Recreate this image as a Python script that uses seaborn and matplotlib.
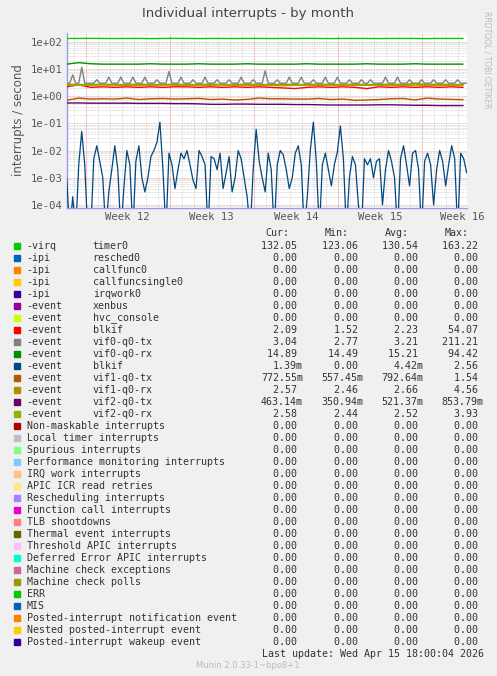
import numpy as np
import pandas as pd
import matplotlib
matplotlib.use("Agg")
import matplotlib.pyplot as plt
from matplotlib.ticker import LogLocator, NullFormatter
import seaborn as sns

sns.set_style("white")
plt.rcParams['font.family'] = ['DejaVu Sans']

# ---------------- data ----------------
days_daily = list(range(0, 34))
timer0 = [132, 132, 133, 132, 131, 132, 132, 131, 132, 133, 132, 131, 132, 132, 131, 132, 132,
          131, 132, 132, 133, 132, 131, 132, 132, 132, 131, 132, 132, 132, 131, 132, 132, 132]
vif0_rx = [15, 17, 15.5, 15, 15, 15, 15, 15.5, 15, 15, 15, 15.5, 15, 15, 15, 15.5, 15,
           15, 15, 15, 15.5, 15, 15, 15, 15, 15.5, 15, 15, 15, 15.5, 15, 15, 15, 15]
blkif_red = [2.2, 2.6, 2.1, 2.2, 2.1, 2.2, 2.1, 2.2, 2.1, 2.2, 2.2, 2.1, 2.2, 2.1, 2.2, 2.1, 2.2,
             2.1, 2.0, 1.9, 2.1, 2.2, 2.1, 2.2, 2.1, 1.9, 2.2, 2.1, 2.2, 2.1, 2.2, 2.1, 2.2, 2.1]
vif1_rx = [2.7, 2.6, 2.6, 2.7, 2.6, 2.6, 2.7, 2.6, 2.6, 2.7, 2.6, 2.6, 2.7, 2.6, 2.6, 2.7, 2.6,
           2.6, 2.7, 2.6, 2.6, 2.7, 2.6, 2.6, 2.7, 2.6, 2.6, 2.7, 2.6, 2.9, 2.6, 2.7, 2.6, 2.6]
vif2_rx = [2.5, 2.5, 2.5, 2.6, 2.5, 2.5, 2.5, 2.5, 2.6, 2.5, 2.5, 2.5, 2.5, 2.6, 2.5, 2.5, 2.5,
           2.5, 2.4, 2.5, 2.5, 2.5, 2.5, 2.5, 2.5, 2.5, 2.5, 2.5, 2.5, 2.5, 2.5, 2.5, 2.5, 2.5]
vif1_tx = [0.7, 0.85, 0.78, 0.8, 0.78, 0.85, 0.75, 0.8, 0.82, 0.78, 0.8, 0.83, 0.75, 0.78, 0.72,
           0.76, 0.85, 0.8, 0.8, 0.78, 0.78, 0.82, 0.75, 0.78, 0.7, 0.72, 0.75, 0.8, 0.82, 0.72,
           0.85, 0.78, 0.76, 0.74]
vif2_tx = [0.56, 0.56, 0.55, 0.55, 0.55, 0.55, 0.54, 0.54, 0.54, 0.53, 0.53, 0.52, 0.5, 0.5, 0.51,
           0.51, 0.5, 0.5, 0.5, 0.49, 0.49, 0.48, 0.47, 0.47, 0.47, 0.47, 0.48, 0.48, 0.47, 0.46,
           0.46, 0.45, 0.45, 0.45]
vif0_tx = [3.0, 3.0, 6.0, 3.0, 3.0, 11.5, 3.0, 3.0, 3.0, 3.0, 4.0, 3.0, 3.0, 3.0, 5.0, 3.0,
           3.0, 3.0, 5.0, 3.0, 3.0, 3.0, 5.0, 3.0, 3.0, 3.0, 5.0, 3.0, 3.0, 3.0, 4.0, 3.0,
           3.0, 3.0, 8.0, 3.0, 3.0, 3.0, 5.0, 3.0, 3.0, 3.0, 4.0, 3.0, 3.0, 3.0, 5.0, 3.0,
           3.0, 3.0, 4.0, 3.0, 3.0, 3.0, 4.0, 3.0, 3.0, 3.0, 5.0, 3.0, 3.0, 3.0, 4.0, 3.0,
           3.0, 3.0, 8.5, 3.0, 3.0, 3.0, 4.0, 3.0, 3.0, 3.0, 5.0, 3.0, 3.0, 3.0, 5.0, 3.0,
           3.0, 3.0, 4.0, 3.0, 3.0, 3.0, 5.0, 3.0, 3.0, 3.0, 5.0, 3.0, 3.0, 3.0, 4.0, 3.0,
           3.0, 3.0, 4.0, 3.0, 3.0, 4.0, 3.0, 3.0, 3.0, 3.0, 5.0, 3.0, 3.0, 3.0, 5.0, 3.0,
           3.0, 3.0, 4.0, 3.0, 3.0, 3.0, 4.0, 3.0, 3.0, 3.0, 4.0, 3.0, 3.0, 3.0, 4.0, 3.0,
           3.0, 3.0, 4.0, 3.0, 3.0, 3.0]
blkif_blue = [1e-3, 1e-5, 2e-4, 1e-5, 3e-3, 5e-2, 3e-3, 1e-5, 1e-5, 5e-3, 1.5e-2, 4e-3, 1e-3, 1e-5,
              3e-4, 2e-3, 1.5e-2, 2e-3, 1e-5, 4e-4, 1e-2, 3e-3, 1e-5, 4e-3, 1.5e-2, 1e-3, 3e-4, 1e-3,
              6e-3, 1e-2, 2e-2, 1.1e-1, 2e-3, 1e-5, 8e-3, 3e-3, 4e-4, 2e-3, 8e-3, 5e-3, 1e-2, 3e-3,
              8e-4, 4e-4, 1e-2, 6e-3, 3e-3, 1e-5, 6e-3, 5e-3, 2e-3, 8e-3, 4e-4, 1.5e-3, 6e-3, 3e-4,
              1e-3, 1e-2, 5e-3, 1e-3, 2e-4, 1e-5, 2e-3, 6e-2, 4e-3, 1e-3, 3e-4, 8e-3, 2e-3, 1e-5,
              3e-3, 1e-2, 7e-3, 2e-3, 4e-4, 1e-3, 8e-3, 1.5e-2, 3e-3, 1e-5, 2e-4, 1e-2, 1.1e-1, 4e-3,
              1e-5, 3e-3, 8e-3, 2e-3, 5e-4, 3e-3, 9e-3, 8e-2, 5e-3, 1e-5, 1e-3, 6e-3, 3e-3, 1e-4,
              1e-5, 5e-3, 3e-3, 5e-3, 1e-3, 4e-3, 5e-3, 1e-4, 2e-3, 1e-2, 4e-3, 1e-3, 1e-5, 5e-3,
              1.5e-2, 3e-3, 5e-4, 8e-3, 1e-2, 2e-3, 1e-5, 4e-3, 8e-3, 3e-3, 1e-4, 2e-3, 1e-2, 4e-3,
              5e-4, 3e-3, 1.5e-2, 5e-3, 1e-5, 8e-3, 5e-3, 1.5e-3]

week_labels = ["Week 12", "Week 13", "Week 14", "Week 15", "Week 16"]
week_starts = [1.58, 8.58, 15.58, 22.58, 29.58]
x_end = 33.3
y_ticks = [1e-4, 1e-3, 1e-2, 1e-1, 1, 10, 100]
y_tick_labels = ["1e-04", "1e-03", "1e-02", "1e-01", "1e+00", "1e+01", "1e+02"]

legend_rows = [
    ("#00CC00", "-virq", "timer0", "132.05", "123.06", "130.54", "163.22"),
    ("#0066B3", "-ipi", "resched0", "0.00", "0.00", "0.00", "0.00"),
    ("#FF8000", "-ipi", "callfunc0", "0.00", "0.00", "0.00", "0.00"),
    ("#FFCC00", "-ipi", "callfuncsingle0", "0.00", "0.00", "0.00", "0.00"),
    ("#330099", "-ipi", "irqwork0", "0.00", "0.00", "0.00", "0.00"),
    ("#990099", "-event", "xenbus", "0.00", "0.00", "0.00", "0.00"),
    ("#CCFF00", "-event", "hvc_console", "0.00", "0.00", "0.00", "0.00"),
    ("#FF0000", "-event", "blkif", "2.09", "1.52", "2.23", "54.07"),
    ("#808080", "-event", "vif0-q0-tx", "3.04", "2.77", "3.21", "211.21"),
    ("#008F00", "-event", "vif0-q0-rx", "14.89", "14.49", "15.21", "94.42"),
    ("#00487D", "-event", "blkif", "1.39m", "0.00", "4.42m", "2.56"),
    ("#B35A00", "-event", "vif1-q0-tx", "772.55m", "557.45m", "792.64m", "1.54"),
    ("#B38F00", "-event", "vif1-q0-rx", "2.57", "2.46", "2.66", "4.56"),
    ("#6B006B", "-event", "vif2-q0-tx", "463.14m", "350.94m", "521.37m", "853.79m"),
    ("#8FB300", "-event", "vif2-q0-rx", "2.58", "2.44", "2.52", "3.93"),
    ("#B30000", "Non-maskable interrupts", "", "0.00", "0.00", "0.00", "0.00"),
    ("#BEBEBE", "Local timer interrupts", "", "0.00", "0.00", "0.00", "0.00"),
    ("#80FF80", "Spurious interrupts", "", "0.00", "0.00", "0.00", "0.00"),
    ("#80C9FF", "Performance monitoring interrupts", "", "0.00", "0.00", "0.00", "0.00"),
    ("#FFC080", "IRQ work interrupts", "", "0.00", "0.00", "0.00", "0.00"),
    ("#FFE680", "APIC ICR read retries", "", "0.00", "0.00", "0.00", "0.00"),
    ("#AA80FF", "Rescheduling interrupts", "", "0.00", "0.00", "0.00", "0.00"),
    ("#EE00CC", "Function call interrupts", "", "0.00", "0.00", "0.00", "0.00"),
    ("#FF8080", "TLB shootdowns", "", "0.00", "0.00", "0.00", "0.00"),
    ("#666600", "Thermal event interrupts", "", "0.00", "0.00", "0.00", "0.00"),
    ("#FFBFFF", "Threshold APIC interrupts", "", "0.00", "0.00", "0.00", "0.00"),
    ("#00FFCC", "Deferred Error APIC interrupts", "", "0.00", "0.00", "0.00", "0.00"),
    ("#CC6699", "Machine check exceptions", "", "0.00", "0.00", "0.00", "0.00"),
    ("#999900", "Machine check polls", "", "0.00", "0.00", "0.00", "0.00"),
    ("#00CC00", "ERR", "", "0.00", "0.00", "0.00", "0.00"),
    ("#0066B3", "MIS", "", "0.00", "0.00", "0.00", "0.00"),
    ("#FF8000", "Posted-interrupt notification event", "", "0.00", "0.00", "0.00", "0.00"),
    ("#FFCC00", "Nested posted-interrupt event", "", "0.00", "0.00", "0.00", "0.00"),
    ("#330099", "Posted-interrupt wakeup event", "", "0.00", "0.00", "0.00", "0.00"),
]

# ---------------- figure ----------------
W, H = 497, 676
mono = "DejaVu Sans Mono"
fig = plt.figure(figsize=(W / 100, H / 100), dpi=100, facecolor="#F0F0F0")
ax = fig.add_axes([66.7 / W, 1 - 208.3 / H, 400 / W, (208.3 - 32.7) / H])
ax.set_facecolor("white")
ax.set_yscale("log")

t_daily = np.array(days_daily, dtype=float)
t_fine = np.linspace(0, x_end, len(blkif_blue))
t_gray = np.linspace(0, x_end, len(vif0_tx))

def line(x, y, c, lw=1.0):
    sns.lineplot(x=x, y=y, ax=ax, color=c, linewidth=lw, legend=False, zorder=3)

line(t_daily, timer0, "#00CC00")
line(t_daily, vif2_tx, "#6B006B")
line(t_daily, vif1_tx, "#B35A00")
line(t_gray, vif0_tx, "#808080")
line(t_daily, blkif_red, "#FF0000")
line(t_daily, vif1_rx, "#B38F00", 1.3)
line(t_daily, vif2_rx, "#8FB300")
line(t_daily, vif0_rx, "#008F00")
line(t_fine, blkif_blue, "#00487D", 0.9)

ax.set_ylim(7.5e-5, 2.15e2)
ax.set_xlim(0, x_end)
ax.yaxis.set_minor_locator(LogLocator(base=10, subs=np.arange(2, 10), numticks=20))
ax.yaxis.set_minor_formatter(NullFormatter())
ax.set_yticks(y_ticks)
ax.set_yticklabels(y_tick_labels)
ax.grid(which="minor", axis="y", color="#C8C8C8", linestyle=(0, (1, 1)), linewidth=0.5)
for d in np.arange(0.58, x_end, 1.0):
    ax.axvline(d, color="#C8C8C8", linestyle=(0, (1, 1)), linewidth=0.5, zorder=0.5)
for yv in y_ticks:
    ax.axhline(yv, color="#F0A0A0", linestyle=(0, (1, 1)), linewidth=0.6, zorder=0.6)
for ws in week_starts:
    ax.axvline(ws, color="#F0A0A0", linestyle=(0, (1, 1)), linewidth=0.6, zorder=0.6)
ax.set_xticks([ws + 3.5 if ws + 7 < x_end else 32.9 for ws in week_starts])
ax.set_xticklabels(week_labels)
ax.tick_params(axis="both", length=0, labelsize=7.6, colors="#555555", pad=3)
for lab in ax.get_xticklabels() + ax.get_yticklabels():
    lab.set_fontfamily(mono)

for s in ["top", "right"]:
    ax.spines[s].set_visible(False)
for s in ["left", "bottom"]:
    ax.spines[s].set_color("#9999EE")
    ax.spines[s].set_linewidth(1.0)
ax.set_ylabel("interrupts / second", fontsize=8.5, color="#555555", labelpad=4)

fig.text(248 / W, 1 - 13 / H, "Individual interrupts - by month", ha="center", va="center",
         fontsize=9.5, color="#444444")
fig.text(487 / W, 1 - 60 / H, "RRDTOOL / TOBI OETIKER", ha="center", va="center",
         rotation=270, fontsize=5.5, color="#BBBBBB")

fs = 7.2
tc = "#333333"
def T(x, y, s, ha="left", color=tc, size=fs):
    fig.text(x / W, 1 - y / H, s, ha=ha, va="center", family=mono, fontsize=size, color=color)

for x, h in zip([289, 349, 409, 469], ["Cur:", "Min:", "Avg:", "Max:"]):
    T(x, 233, h, ha="right")

col_x = [303, 363.5, 423.5, 483.5]
for i, (c, a, b, cur, mn, av, mx) in enumerate(legend_rows):
    y = 245.7 + 12 * i
    fig.patches.append(plt.Rectangle((14 / W, 1 - (y + 3) / H), 6 / W, 6 / H,
                                     transform=fig.transFigure, color=c))
    T(26.7, y, a)
    if b:
        T(92.7, y, b)
    for x, v in zip(col_x, [cur, mn, av, mx]):
        T(x, y, v if v.endswith("m") else v + " ", ha="right")

T(483.5, 653.7, "Last update: Wed Apr 15 18:00:04 2026", ha="right")
fig.text(248 / W, 1 - 665 / H, "Munin 2.0.33-1~bpo8+1", ha="center", va="center",
         fontsize=6, color="#BBBBBB")

fig.savefig("out.png", dpi=100, facecolor=fig.get_facecolor())
